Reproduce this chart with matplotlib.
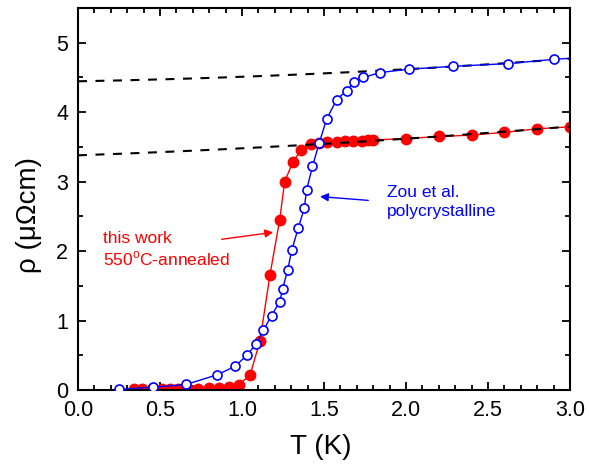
import numpy as np
import matplotlib
matplotlib.use('Agg')
import matplotlib.pyplot as plt
from matplotlib.ticker import MultipleLocator

plt.rcParams['font.family'] = ['Liberation Sans', 'DejaVu Sans']
plt.rcParams['mathtext.fontset'] = 'custom'
plt.rcParams['mathtext.rm'] = 'Liberation Sans'

# this work, 550C-annealed sample (filled red)
T_red = [0.34, 0.39, 0.45, 0.51, 0.56, 0.61, 0.67, 0.73, 0.80, 0.86, 0.92, 0.98,
         1.05, 1.11, 1.17, 1.23, 1.26, 1.31, 1.36, 1.42, 1.47, 1.52, 1.58, 1.63,
         1.68, 1.73, 1.77, 1.80, 2.0, 2.2, 2.4, 2.6, 2.8, 3.0]
rho_red = [0.02, 0.02, 0.02, 0.02, 0.02, 0.02, 0.02, 0.02, 0.03, 0.03, 0.04, 0.07,
           0.22, 0.71, 1.65, 2.45, 3.00, 3.28, 3.46, 3.54, 3.56, 3.57, 3.57, 3.58,
           3.58, 3.59, 3.60, 3.60, 3.62, 3.65, 3.67, 3.71, 3.76, 3.79]

# Zou et al., polycrystalline (open blue)
T_blue = [0.25, 0.455, 0.66, 0.85, 0.957, 1.03, 1.085, 1.13, 1.18, 1.23, 1.248,
          1.279, 1.303, 1.343, 1.38, 1.394, 1.43, 1.47, 1.516, 1.577, 1.638, 1.683,
          1.74, 1.84, 2.02, 2.285, 2.62, 2.90, 3.15]
rho_blue = [0.01, 0.04, 0.08, 0.22, 0.34, 0.50, 0.66, 0.86, 1.07, 1.27, 1.46,
            1.73, 2.01, 2.33, 2.62, 2.88, 3.22, 3.55, 3.90, 4.18, 4.31, 4.43,
            4.50, 4.57, 4.62, 4.66, 4.70, 4.76, 4.80]

# normal-state fits rho0 + a*T + b*T^2
fit_red = (3.379, 0.082, 0.0188)
fit_blue = (4.445, 0.043, 0.0218)

fig = plt.figure(figsize=(5.89, 4.66), dpi=100)
ax = fig.add_axes([0.1324, 0.1631, 0.8353, 0.8197])

Tf = np.linspace(0, 3, 200)
for p in (fit_red, fit_blue):
    ax.plot(Tf, p[0] + p[1] * Tf + p[2] * Tf ** 2, color='black', lw=1.5,
            dashes=(4.3, 4.1), zorder=3)

ax.plot(T_red, rho_red, '-o', color='red', lw=1, ms=7.5, mfc='red', mec='red',
        zorder=2)
ax.plot(T_blue, rho_blue, '-o', color='blue', lw=1, ms=6.5, mfc='white',
        mec='blue', mew=1.2, zorder=4)

ax.set_xlim(0, 3)
ax.set_ylim(0, 5.5)
ax.xaxis.set_major_locator(MultipleLocator(0.5))
ax.xaxis.set_minor_locator(MultipleLocator(0.1))
ax.yaxis.set_major_locator(MultipleLocator(1))
ax.yaxis.set_minor_locator(MultipleLocator(0.5))
ax.xaxis.set_major_formatter('{x:.1f}')
ax.tick_params(which='both', direction='in', top=True, right=True, width=1.3)
ax.tick_params(which='major', length=6, labelsize=15.5, pad=7)
ax.tick_params(which='minor', length=3.5)
for s in ax.spines.values():
    s.set_linewidth(1.5)

ax.set_xlabel('T (K)', fontsize=20)
ax.set_ylabel('ρ (μΩcm)', fontsize=20)
ax.xaxis.set_label_coords(0.494, -0.115)
ax.yaxis.set_label_coords(-0.074, 0.458)

ax.text(0.15, 2.12, 'this work', color='red', fontsize=12.5)
ax.text(0.15, 1.80, '550$^\\mathrm{o}$C-annealed', color='red', fontsize=12.5)
ax.annotate('', xy=(1.19, 2.27), xytext=(0.876, 2.17),
            arrowprops=dict(arrowstyle='-|>', color='red', lw=1,
                            mutation_scale=12, shrinkA=0, shrinkB=0))

ax.text(1.886, 2.785, 'Zou et al.', color='blue', fontsize=12.5)
ax.text(1.886, 2.50, 'polycrystalline', color='blue', fontsize=12.5)
ax.annotate('', xy=(1.476, 2.785), xytext=(1.77, 2.73),
            arrowprops=dict(arrowstyle='-|>', color='blue', lw=1,
                            mutation_scale=12, shrinkA=0, shrinkB=0))

fig.savefig('out.png', dpi=100)
